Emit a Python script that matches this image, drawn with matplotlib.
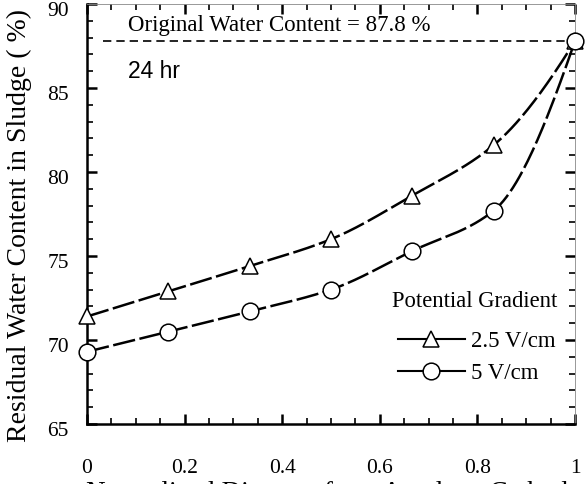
import numpy as np
import matplotlib
matplotlib.use("Agg")
import matplotlib.pyplot as plt
import matplotlib.transforms as mtransforms
from matplotlib.lines import Line2D
from matplotlib.ticker import MultipleLocator

# Data
distance = [0.0, 1/6, 2/6, 3/6, 4/6, 5/6, 1.0]
wc_25 = [71.4, 72.9, 74.4, 76.0, 78.6, 81.6, 87.8]
wc_5 = [69.3, 70.5, 71.7, 73.0, 75.3, 77.7, 87.8]
original_wc = 87.8
xticks = [0, 0.2, 0.4, 0.6, 0.8, 1]
xticklabels = ["0", "0.2", "0.4", "0.6", "0.8", "1"]
yticks = [65, 70, 75, 80, 85, 90]

def pchip(x, y, xn):
    x = np.asarray(x, float); y = np.asarray(y, float)
    h = np.diff(x); d = np.diff(y) / h
    n = len(x); m = np.zeros(n)
    for k in range(1, n - 1):
        if d[k-1] * d[k] > 0:
            w1 = 2*h[k] + h[k-1]; w2 = h[k] + 2*h[k-1]
            m[k] = (w1 + w2) / (w1/d[k-1] + w2/d[k])
    m[0] = d[0]; m[-1] = d[-1] + (d[-1]-d[-2])*0.5
    out = np.empty_like(xn)
    for i, xv in enumerate(xn):
        k = min(np.searchsorted(x, xv, side='right') - 1, n - 2)
        t = (xv - x[k]) / h[k]
        h00 = 2*t**3 - 3*t**2 + 1; h10 = t**3 - 2*t**2 + t
        h01 = -2*t**3 + 3*t**2; h11 = t**3 - t**2
        out[i] = h00*y[k] + h10*h[k]*m[k] + h01*y[k+1] + h11*h[k]*m[k+1]
    return out

serif = ["Liberation Serif", "DejaVu Serif"]
plt.rcParams['font.family'] = serif

W, H = 587, 484
fig = plt.figure(figsize=(W/100, H/100), dpi=100)
ax = fig.add_axes([87/W, 1 - 424/H, 488/W, 420/H])

xs = np.linspace(0, 1, 300)
for ys, mk in [(wc_25, '^'), (wc_5, 'o')]:
    ax.plot(xs, pchip(distance, ys, xs), color='black', lw=1.8,
            dashes=(9, 1.8), zorder=2)
    ax.plot(distance, ys, linestyle='none', marker=mk, markersize=12,
            markerfacecolor='white', markeredgecolor='black',
            markeredgewidth=1.1, zorder=3, clip_on=False)

ax.plot([0.033, 1], [original_wc, original_wc], color='black', lw=1.2,
        dashes=(5, 3), zorder=1)

ax.set_xlim(0, 1)
ax.set_ylim(65, 90)
ax.set_xticks(xticks)
ax.set_xticklabels(xticklabels)
ax.set_yticks(yticks)
ax.xaxis.set_minor_locator(MultipleLocator(0.05))
ax.yaxis.set_minor_locator(MultipleLocator(1))
ax.tick_params(which='both', direction='in', top=True, right=True,
               labelsize=15.5)
ax.tick_params(axis='x', which='major', length=7, width=1.8, pad=25)
ax.tick_params(axis='y', which='major', length=7, width=1.8, pad=13)
ax.tick_params(which='minor', length=4, width=1.2)
for s in ['left', 'bottom']:
    ax.spines[s].set_linewidth(1.8)
for s in ['top', 'right']:
    ax.spines[s].set_linewidth(0.6)
    ax.spines[s].set_color('#888888')

# shift y tick labels slightly downward as in the reference
off = mtransforms.ScaledTranslation(0, -5.5/100, fig.dpi_scale_trans)
for lab in ax.get_yticklabels():
    lab.set_transform(lab.get_transform() + off)

fig.text(19/W, 1 - 225/H, "Residual Water Content in Sludge ( %)",
         fontsize=20, rotation=90, ha='center', va='center')
fig.text(86/W, 1 - 500/H, "Normalized Distance from Anode to Cathode",
         fontsize=19.6, ha='left', va='baseline')

ax.text(0.084, 88.75, "Original Water Content = 87.8 %", fontsize=16.5,
        ha='left', va='center')
ax.text(0.084, 86.0, "24 hr", fontsize=16.5, ha='left', va='center',
        family=["Liberation Sans", "DejaVu Sans"])

ax.text(0.626, 72.3, "Potential Gradient", fontsize=16.3, ha='left', va='center')
h1 = Line2D([], [], color='black', lw=1.5, marker='^', markersize=12,
            markerfacecolor='white', markeredgecolor='black', markeredgewidth=1.1)
h2 = Line2D([], [], color='black', lw=1.5, marker='o', markersize=12,
            markerfacecolor='white', markeredgecolor='black', markeredgewidth=1.1)
leg = ax.legend([h1, h2], ["2.5 V/cm", "5 V/cm"], loc='upper left',
                bbox_to_anchor=(0.614, 0.248), frameon=False, fontsize=16.5,
                handlelength=2.9, handletextpad=0.3, labelspacing=0.45,
                borderpad=0)

fig.savefig("out.png", dpi=100)
